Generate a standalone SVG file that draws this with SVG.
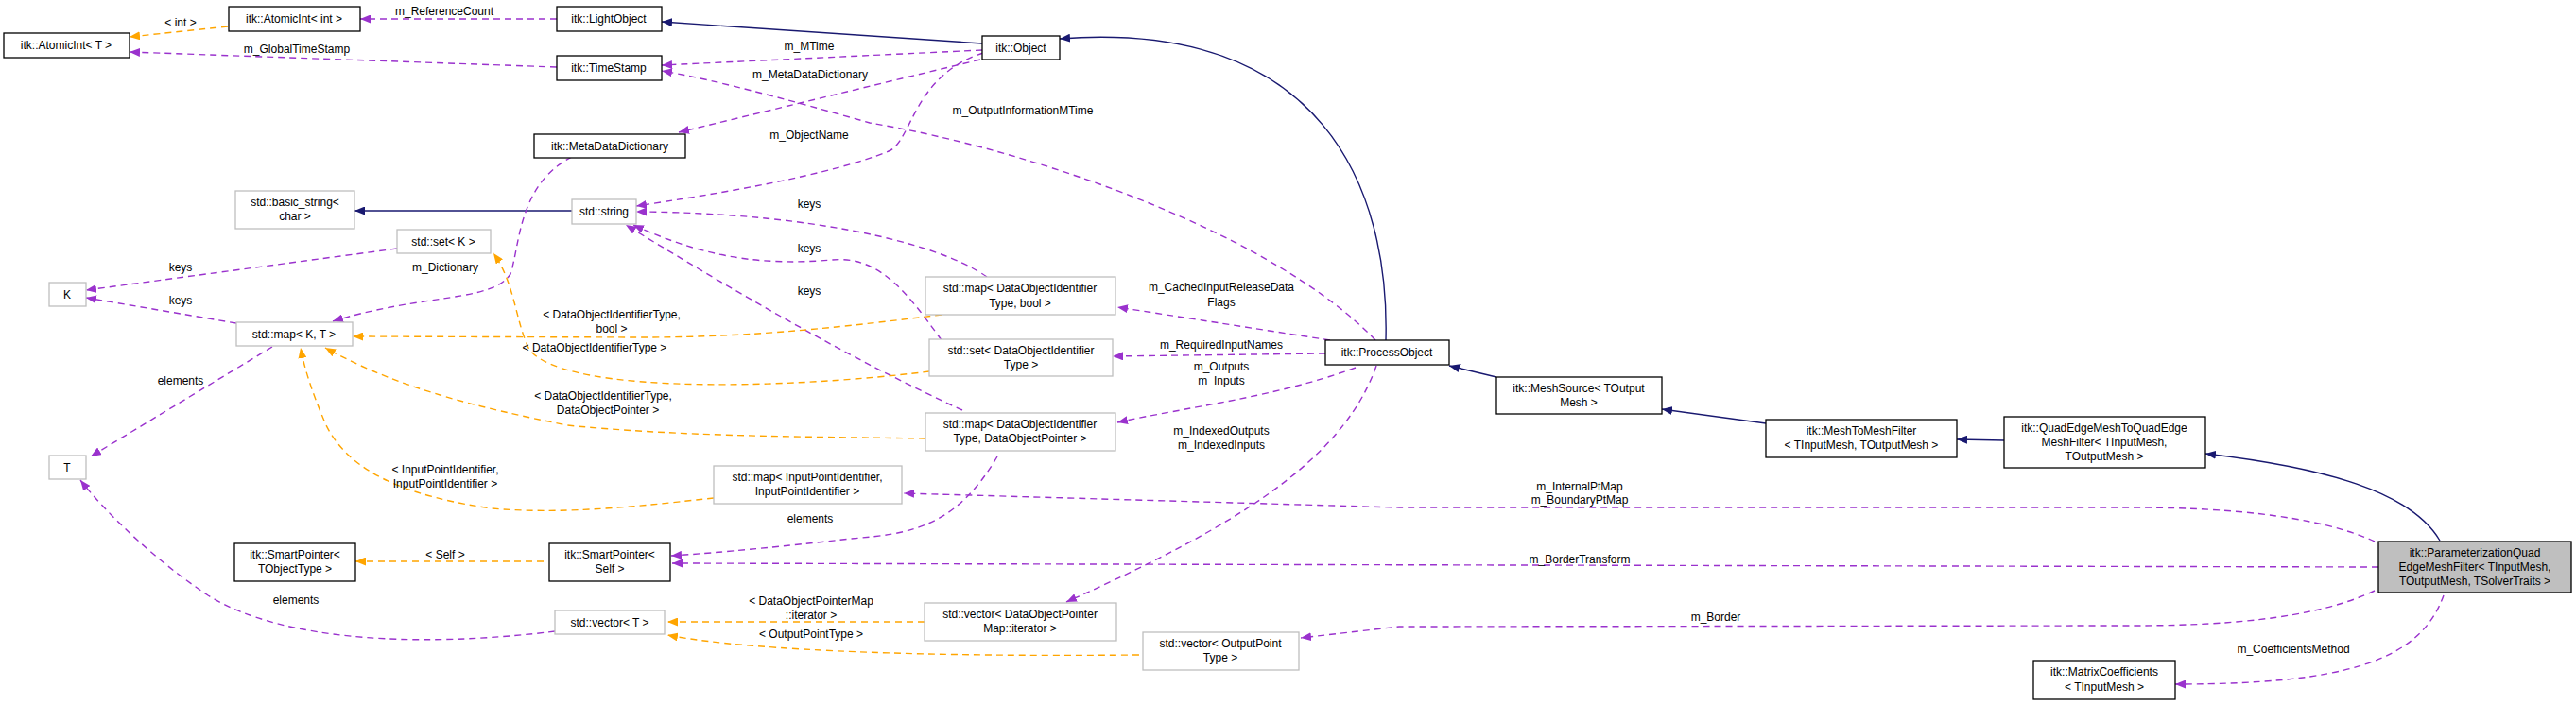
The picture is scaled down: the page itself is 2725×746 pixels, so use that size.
<svg xmlns="http://www.w3.org/2000/svg" width="2725" height="746" viewBox="0 0 2725 746">
<style>
text{font-family:"Liberation Sans",Arial,sans-serif;font-size:12px;fill:#000;text-anchor:middle}
.n rect{fill:#fff;stroke:#000;stroke-width:1.3}
.g rect{fill:#fff;stroke:#bfbfbf;stroke-width:1.3}
.cur rect{fill:#bfbfbf;stroke:#000;stroke-width:1.3}
.b{fill:none;stroke:#191970;stroke-width:1.4;marker-end:url(#ab)}
.p{fill:none;stroke:#9a32cd;stroke-width:1.4;stroke-dasharray:7,5;marker-end:url(#ap)}
.o{fill:none;stroke:#ffa500;stroke-width:1.4;stroke-dasharray:7,5;marker-end:url(#ao)}
</style>
<defs>
<marker id="ab" markerUnits="userSpaceOnUse" markerWidth="12" markerHeight="9" refX="11" refY="4.5" orient="auto"><path d="M0,0L11,4.5L0,9z" fill="#191970"/></marker>
<marker id="ap" markerUnits="userSpaceOnUse" markerWidth="12" markerHeight="9" refX="11" refY="4.5" orient="auto"><path d="M0,0L11,4.5L0,9z" fill="#9a32cd"/></marker>
<marker id="ao" markerUnits="userSpaceOnUse" markerWidth="12" markerHeight="9" refX="11" refY="4.5" orient="auto"><path d="M0,0L11,4.5L0,9z" fill="#ffa500"/></marker>
</defs>
<rect width="2725" height="746" fill="#fff"/>
<g id="edges">
<path class="b" d="M1039,46L700,23"/>
<path class="b" d="M1466,360C1470,200 1400,20 1121,41"/>
<path class="b" d="M605,223L375,223"/>
<path class="b" d="M1583,399L1533,387"/>
<path class="b" d="M1868,448L1758,433"/>
<path class="b" d="M2120,466L2070,465"/>
<path class="b" d="M2581,572C2550,520 2460,495 2333,480"/>
<path class="p" d="M589,20L381,20"/>
<path class="p" d="M589,71L137,55"/>
<path class="p" d="M1039,53L700,69"/>
<path class="p" d="M1037,63L718,140"/>
<path class="p" d="M1040,56C965,80 965,150 940,160C880,185 760,205 673,218"/>
<path class="p" d="M1455,360C1350,250 1100,160 920,130C850,110 760,85 700,75"/>
<path class="p" d="M605,166C548,195 550,260 540,290C520,320 450,310 352,340"/>
<path class="p" d="M420,263L91,307"/>
<path class="p" d="M250,342L91,315"/>
<path class="p" d="M288,367L96,483"/>
<path class="p" d="M587,668C450,685 300,680 220,630C160,590 110,540 85,508"/>
<path class="p" d="M1044,293C990,255 850,225 673,224"/>
<path class="p" d="M996,360C960,310 930,270 880,275C800,282 740,270 670,238"/>
<path class="p" d="M1018,434C900,380 780,310 662,238"/>
<path class="p" d="M1407,360L1182,325"/>
<path class="p" d="M1402,374L1177,377"/>
<path class="p" d="M1434,389C1350,420 1260,430 1182,447"/>
<path class="p" d="M1456,387C1420,490 1300,560 1128,637"/>
<path class="p" d="M1055,483C1010,560 960,565 900,570C830,578 760,585 710,588"/>
<path class="p" d="M2512,573C2440,540 2320,537 2250,537L1480,537L956,522"/>
<path class="p" d="M2516,600L711,596"/>
<path class="p" d="M2512,625C2440,660 2320,662 2250,662L1480,663L1376,675"/>
<path class="p" d="M2585,630C2560,700 2480,724 2301,724"/>
<path class="o" d="M241,28L137,39"/>
<path class="o" d="M575,594L376,594"/>
<path class="o" d="M996,333C900,345 800,357 680,357L373,356"/>
<path class="o" d="M983,393C850,410 600,420 560,370C545,340 545,300 522,268"/>
<path class="o" d="M979,464C850,462 720,462 600,450C500,430 420,410 344,368"/>
<path class="o" d="M755,527C680,535 600,545 520,538C430,525 370,500 345,450C330,415 322,390 318,368"/>
<path class="o" d="M978,658L706,658"/>
<path class="o" d="M1205,693C1000,695 800,690 706,672"/>
</g>
<g id="labels">
<text x="470" y="16">m_ReferenceCount</text>
<text x="314" y="56">m_GlobalTimeStamp</text>
<text x="856" y="53">m_MTime</text>
<text x="857" y="83">m_MetaDataDictionary</text>
<text x="856" y="147">m_ObjectName</text>
<text x="1082" y="121">m_OutputInformationMTime</text>
<text x="471" y="287">m_Dictionary</text>
<text x="191" y="287">keys</text>
<text x="191" y="322">keys</text>
<text x="191" y="407">elements</text>
<text x="313" y="639">elements</text>
<text x="856" y="220">keys</text>
<text x="856" y="267">keys</text>
<text x="856" y="312">keys</text>
<text x="1292" y="308">m_CachedInputReleaseData</text>
<text x="1292" y="324">Flags</text>
<text x="1292" y="369">m_RequiredInputNames</text>
<text x="1292" y="392">m_Outputs</text>
<text x="1292" y="407">m_Inputs</text>
<text x="1292" y="460">m_IndexedOutputs</text>
<text x="1292" y="475">m_IndexedInputs</text>
<text x="857" y="553">elements</text>
<text x="1671" y="519">m_InternalPtMap</text>
<text x="1671" y="533">m_BoundaryPtMap</text>
<text x="1671" y="596">m_BorderTransform</text>
<text x="1815" y="657">m_Border</text>
<text x="2426" y="691">m_CoefficientsMethod</text>
<text x="191" y="28">&lt; int &gt;</text>
<text x="471" y="591">&lt; Self &gt;</text>
<text x="647" y="337">&lt; DataObjectIdentifierType,</text>
<text x="647" y="352">bool &gt;</text>
<text x="629" y="372">&lt; DataObjectIdentifierType &gt;</text>
<text x="638" y="423">&lt; DataObjectIdentifierType,</text>
<text x="643" y="438">DataObjectPointer &gt;</text>
<text x="471" y="501">&lt; InputPointIdentifier,</text>
<text x="471" y="516">InputPointIdentifier &gt;</text>
<text x="858" y="640">&lt; DataObjectPointerMap</text>
<text x="858" y="655">::iterator &gt;</text>
<text x="858" y="675">&lt; OutputPointType &gt;</text>
</g>
<g id="AtomicIntT" class="n"><rect x="4" y="35" width="133" height="26"/><text x="70" y="52">itk::AtomicInt&lt; T &gt;</text></g>
<g id="AtomicIntInt" class="n"><rect x="242" y="7" width="139" height="26"/><text x="311" y="24">itk::AtomicInt&lt; int &gt;</text></g>
<g id="LightObject" class="n"><rect x="589" y="7" width="111" height="26"/><text x="644" y="24">itk::LightObject</text></g>
<g id="TimeStamp" class="n"><rect x="589" y="59" width="111" height="26"/><text x="644" y="76">itk::TimeStamp</text></g>
<g id="MetaDataDictionary" class="n"><rect x="565" y="142" width="160" height="25"/><text x="645" y="159">itk::MetaDataDictionary</text></g>
<g id="Object" class="n"><rect x="1039" y="38" width="82" height="25"/><text x="1080" y="55">itk::Object</text></g>
<g id="basic_string" class="g"><rect x="249" y="202" width="126" height="40"/><text x="312" y="218">std::basic_string&lt;</text><text x="312" y="233">char &gt;</text></g>
<g id="string" class="g"><rect x="605" y="211" width="68" height="26"/><text x="639" y="228">std::string</text></g>
<g id="setK" class="g"><rect x="420" y="243" width="99" height="25"/><text x="469" y="260">std::set&lt; K &gt;</text></g>
<g id="K" class="g"><rect x="52" y="299" width="39" height="25"/><text x="71" y="316">K</text></g>
<g id="mapKT" class="g"><rect x="250" y="341" width="123" height="25"/><text x="311" y="358">std::map&lt; K, T &gt;</text></g>
<g id="T" class="g"><rect x="52" y="482" width="39" height="25"/><text x="71" y="499">T</text></g>
<g id="SmartPointerT" class="n"><rect x="248" y="575" width="128" height="40"/><text x="312" y="591">itk::SmartPointer&lt;</text><text x="312" y="606">TObjectType &gt;</text></g>
<g id="SmartPointerSelf" class="n"><rect x="581" y="575" width="128" height="40"/><text x="645" y="591">itk::SmartPointer&lt;</text><text x="645" y="606">Self &gt;</text></g>
<g id="vectorT" class="g"><rect x="587" y="646" width="116" height="25"/><text x="645" y="663">std::vector&lt; T &gt;</text></g>
<g id="mapDOIbool" class="g"><rect x="979" y="293" width="201" height="40"/><text x="1079" y="309">std::map&lt; DataObjectIdentifier</text><text x="1079" y="325">Type, bool &gt;</text></g>
<g id="setDOI" class="g"><rect x="983" y="359" width="194" height="39"/><text x="1080" y="375">std::set&lt; DataObjectIdentifier</text><text x="1080" y="390">Type &gt;</text></g>
<g id="ProcessObject" class="n"><rect x="1402" y="360" width="131" height="26"/><text x="1467" y="377">itk::ProcessObject</text></g>
<g id="mapDOIptr" class="g"><rect x="979" y="437" width="201" height="40"/><text x="1079" y="453">std::map&lt; DataObjectIdentifier</text><text x="1079" y="468">Type, DataObjectPointer &gt;</text></g>
<g id="mapIPI" class="g"><rect x="755" y="493" width="199" height="40"/><text x="854" y="509">std::map&lt; InputPointIdentifier,</text><text x="854" y="524">InputPointIdentifier &gt;</text></g>
<g id="vectorIter" class="g"><rect x="978" y="638" width="203" height="40"/><text x="1079" y="654">std::vector&lt; DataObjectPointer</text><text x="1079" y="669">Map::iterator &gt;</text></g>
<g id="vectorOPT" class="g"><rect x="1209" y="669" width="165" height="40"/><text x="1291" y="685">std::vector&lt; OutputPoint</text><text x="1291" y="700">Type &gt;</text></g>
<g id="MeshSource" class="n"><rect x="1583" y="399" width="175" height="39"/><text x="1670" y="415">itk::MeshSource&lt; TOutput</text><text x="1670" y="430">Mesh &gt;</text></g>
<g id="MeshToMeshFilter" class="n"><rect x="1868" y="444" width="202" height="40"/><text x="1969" y="460">itk::MeshToMeshFilter</text><text x="1969" y="475">&lt; TInputMesh, TOutputMesh &gt;</text></g>
<g id="QuadEdgeFilter" class="n"><rect x="2120" y="441" width="213" height="54"/><text x="2226" y="457">itk::QuadEdgeMeshToQuadEdge</text><text x="2226" y="472">MeshFilter&lt; TInputMesh,</text><text x="2226" y="487">TOutputMesh &gt;</text></g>
<g id="Parameterization" class="cur"><rect x="2516" y="573" width="204" height="54"/><text x="2618" y="589">itk::ParameterizationQuad</text><text x="2618" y="604">EdgeMeshFilter&lt; TInputMesh,</text><text x="2618" y="619">TOutputMesh, TSolverTraits &gt;</text></g>
<g id="MatrixCoefficients" class="n"><rect x="2151" y="699" width="150" height="41"/><text x="2226" y="715">itk::MatrixCoefficients</text><text x="2226" y="731">&lt; TInputMesh &gt;</text></g>
</svg>
